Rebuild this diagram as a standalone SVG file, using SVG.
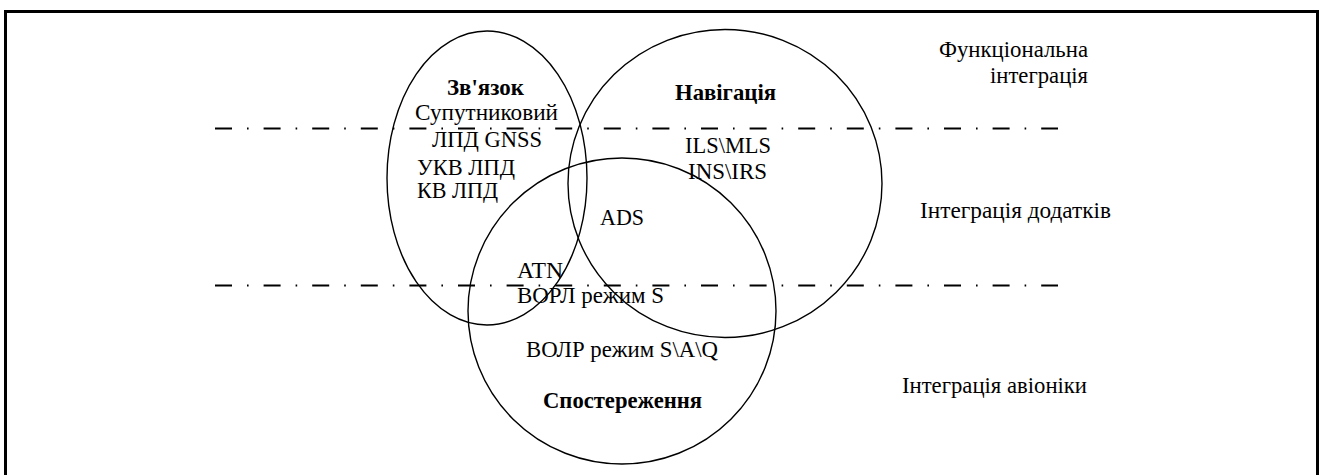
<svg xmlns="http://www.w3.org/2000/svg" width="1323" height="475" viewBox="0 0 1323 475">
<style>
text{font-family:"Liberation Serif","Times New Roman",serif;font-size:22.5px;fill:#000}
.b{font-weight:bold}
.shape{fill:none;stroke:#000;stroke-width:1.4}
.level{fill:none;stroke:#000;stroke-width:2;stroke-dasharray:17 15 1.6 15}
.frame{fill:none;stroke:#000;stroke-width:3}
</style>
<rect class="frame" x="5.5" y="11.5" width="1312" height="480"/>
<g id="levels">
<line class="level" x1="215" y1="128.5" x2="1058" y2="128.5"/>
<line class="level" x1="215" y1="285.5" x2="1058" y2="285.5"/>
</g>
<g id="communication">
<ellipse class="shape" cx="487" cy="178" rx="100" ry="147"/>
<text class="b" x="447" y="95" textLength="77" lengthAdjust="spacingAndGlyphs">Зв'язок</text>
<text x="415" y="120" textLength="143" lengthAdjust="spacingAndGlyphs">Супутниковий</text>
<text x="432" y="147" textLength="110" lengthAdjust="spacingAndGlyphs">ЛПД GNSS</text>
<text x="417" y="175" textLength="98" lengthAdjust="spacingAndGlyphs">УКВ ЛПД</text>
<text x="417" y="198" textLength="81" lengthAdjust="spacingAndGlyphs">КВ ЛПД</text>
</g>
<g id="navigation">
<ellipse class="shape" cx="725" cy="183.5" rx="157" ry="154"/>
<text class="b" x="675" y="100" textLength="101" lengthAdjust="spacingAndGlyphs">Навігація</text>
<text x="685" y="153" textLength="86" lengthAdjust="spacingAndGlyphs">ILS\MLS</text>
<text x="688" y="179" textLength="79" lengthAdjust="spacingAndGlyphs">INS\IRS</text>
</g>
<g id="surveillance">
<ellipse class="shape" cx="622" cy="311" rx="154" ry="153"/>
<text class="b" x="543" y="408" textLength="159" lengthAdjust="spacingAndGlyphs">Спостереження</text>
<text x="526" y="357" textLength="192" lengthAdjust="spacingAndGlyphs">ВОЛР режим S\A\Q</text>
</g>
<g id="overlaps">
<text x="600" y="225" textLength="44" lengthAdjust="spacingAndGlyphs">ADS</text>
<text x="517" y="278" textLength="46" lengthAdjust="spacingAndGlyphs">ATN</text>
<text x="517" y="303" textLength="147" lengthAdjust="spacingAndGlyphs">ВОРЛ режим S</text>
</g>
<g id="level-labels">
<text x="939" y="57" textLength="149" lengthAdjust="spacingAndGlyphs">Функціональна</text>
<text x="990" y="83" textLength="98" lengthAdjust="spacingAndGlyphs">інтеграція</text>
<text x="920" y="218" textLength="191" lengthAdjust="spacingAndGlyphs">Інтеграція додатків</text>
<text x="902" y="393" textLength="185" lengthAdjust="spacingAndGlyphs">Інтеграція авіоніки</text>
</g>
</svg>
